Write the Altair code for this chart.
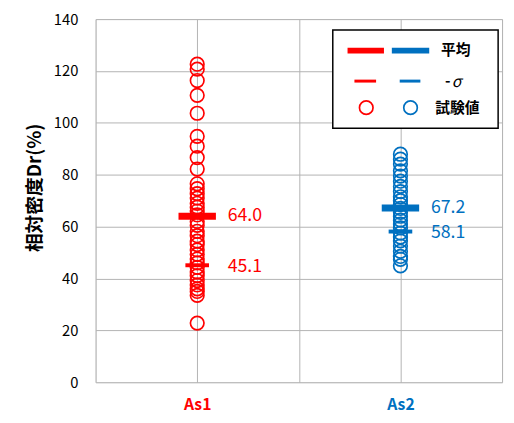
import altair as alt
import pandas as pd

categories = ["As1", "As2"]
colors = ["#FF0000", "#0070C0"]
red_values = [122.6, 120.7, 116.3, 110.6, 103.7, 94.8, 91.0, 86.6, 82.2, 76.5, 74.6,
              72.7, 71.0, 69.0, 67.5, 66.0, 64.5, 62.0, 60.5, 58.2, 56.5, 54.4, 53.1,
              51.0, 49.3, 47.5, 46.0, 44.3, 42.5, 41.1, 39.2, 37.5, 36.0, 35.0, 33.5, 22.8]
blue_values = [87.9, 86.0, 84.1, 81.5, 79.5, 77.5, 75.5, 73.5, 71.5, 70.0, 68.5, 67.0,
               65.5, 64.0, 62.5, 61.0, 59.5, 57.5, 56.0, 54.5, 52.5, 50.5, 48.5, 47.4, 44.9]
means = [64.0, 67.2]
minus_sigma = [45.1, 58.1]
y_ticks = [0, 20, 40, 60, 80, 100, 120, 140]

FONT = "Noto Sans CJK JP"

rows = []
for i, (cat, vals) in enumerate(zip(categories, [red_values, blue_values])):
    for v in vals:
        rows.append({"cat": cat, "pos": 1 + 2 * i, "value": v})
pts = pd.DataFrame(rows)
stats = pd.DataFrame({
    "cat": categories,
    "pos": [1, 3],
    "mean": means,
    "sigma": minus_sigma,
    "mean_lbl": [f"{m:.1f}" for m in means],
    "sigma_lbl": [f"{s:.1f}" for s in minus_sigma],
})

color_scale = alt.Scale(domain=categories, range=colors)
xs = alt.Scale(domain=[0, 4], nice=False, zero=False)
ys = alt.Scale(domain=[0, 140], nice=False)

x_axis = alt.Axis(values=[0, 1, 2, 3, 4], ticks=False, domain=False, title=None,
                  labelExpr="datum.value == 1 ? 'As1' : (datum.value == 3 ? 'As2' : '')",
                  labelColor={"expr": "datum.value == 1 ? '#FF0000' : '#0070C0'"},
                  labelFontSize=16, labelFont=FONT, labelFontWeight="bold", labelPadding=15,
                  gridColor="#b3b3b3", gridWidth=1)
y_axis = alt.Axis(values=y_ticks, ticks=False, domain=False, title="相対密度Dr(%)",
                  labelFontSize=15, labelFont=FONT, labelColor="#000", labelPadding=18,
                  titleFont=FONT, titleFontSize=19, titleFontWeight="bold", titleColor="#000",
                  titleAngle=270, titleX=-62, titleY=171, titleAlign="center",
                  titleBaseline="middle",
                  gridColor="#b3b3b3", gridWidth=1)

points = alt.Chart(pts).mark_point(shape="circle", filled=False, size=190, strokeWidth=1.7, opacity=1).encode(
    x=alt.X("pos:Q", scale=xs, axis=x_axis),
    y=alt.Y("value:Q", scale=ys, axis=y_axis),
    color=alt.Color("cat:N", scale=color_scale, legend=None),
)

mean_tick = alt.Chart(stats).mark_tick(orient="horizontal", size=38, thickness=7, opacity=1).encode(
    x=alt.X("pos:Q", scale=xs), y=alt.Y("mean:Q", scale=ys),
    color=alt.Color("cat:N", scale=color_scale, legend=None),
)
sigma_tick = alt.Chart(stats).mark_tick(orient="horizontal", size=24, thickness=4, opacity=1).encode(
    x=alt.X("pos:Q", scale=xs), y=alt.Y("sigma:Q", scale=ys),
    color=alt.Color("cat:N", scale=color_scale, legend=None),
)
mean_txt = alt.Chart(stats).mark_text(align="left", baseline="middle", dx=31, fontSize=18, font=FONT).encode(
    x=alt.X("pos:Q", scale=xs), y=alt.Y("mean:Q", scale=ys), text="mean_lbl:N",
    color=alt.Color("cat:N", scale=color_scale, legend=None),
)
sigma_txt = alt.Chart(stats).mark_text(align="left", baseline="middle", dx=31, dy=2, fontSize=18, font=FONT).encode(
    x=alt.X("pos:Q", scale=xs), y=alt.Y("sigma:Q", scale=ys), text="sigma_lbl:N",
    color=alt.Color("cat:N", scale=color_scale, legend=None),
)

# Legend drawn by hand (pixel positions inside plot area)
one = pd.DataFrame({"k": [0]})
base = alt.Chart(one)
lg_box = base.mark_rect(fill="white", stroke="black", strokeWidth=1.5).encode(
    x=alt.value(241), x2=alt.value(409), y=alt.value(11), y2=alt.value(111))
lg = [lg_box]
lg.append(base.mark_rule(color=colors[0], strokeWidth=6).encode(x=alt.value(256), x2=alt.value(293), y=alt.value(32)))
lg.append(base.mark_rule(color=colors[1], strokeWidth=6).encode(x=alt.value(301), x2=alt.value(339), y=alt.value(32)))
lg.append(base.mark_rule(color=colors[0], strokeWidth=3).encode(x=alt.value(263), x2=alt.value(285), y=alt.value(63)))
lg.append(base.mark_rule(color=colors[1], strokeWidth=3).encode(x=alt.value(309), x2=alt.value(330), y=alt.value(63)))
lg.append(base.mark_point(shape="circle", filled=False, size=190, strokeWidth=1.7, opacity=1, color=colors[0]).encode(x=alt.value(275), y=alt.value(90)))
lg.append(base.mark_point(shape="circle", filled=False, size=190, strokeWidth=1.7, opacity=1, color=colors[1]).encode(x=alt.value(320), y=alt.value(90)))
lg.append(base.mark_text(text="平均", align="left", baseline="middle", fontSize=15, fontWeight="bold", font=FONT, color="black").encode(x=alt.value(351), y=alt.value(31)))
lg.append(base.mark_text(text="-", align="left", baseline="middle", fontSize=15, fontWeight="bold", font=FONT, color="black").encode(x=alt.value(355), y=alt.value(63)))
lg.append(base.mark_text(text="σ", align="left", baseline="middle", fontSize=16, fontStyle="italic", font=FONT, color="black").encode(x=alt.value(362), y=alt.value(64)))
lg.append(base.mark_text(text="試験値", align="left", baseline="middle", fontSize=15, fontWeight="bold", font=FONT, color="black").encode(x=alt.value(345), y=alt.value(90)))

chart = alt.layer(points, mean_tick, sigma_tick, mean_txt, sigma_txt, *lg).properties(
    width=413, height=369,
    padding={"left": 89, "top": 8, "right": 4, "bottom": 30},
    autosize="none",
).configure_view(stroke="#404040", strokeWidth=1.5).configure(background="white")

chart.save("out.html", embed_options={"renderer": "svg", "actions": False})
